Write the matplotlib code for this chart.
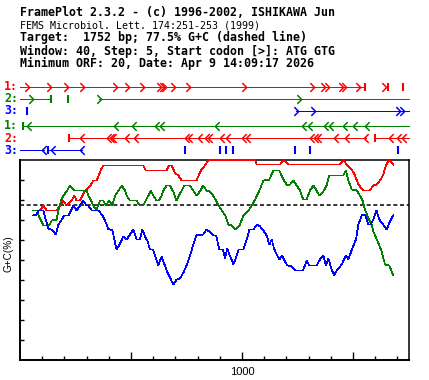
import matplotlib
matplotlib.use('Agg')
import matplotlib.pyplot as plt
from matplotlib.path import Path

plt.rcParams['lines.scale_dashes'] = False

# ---- data ----
seq_len = 1752
gc_total = 77.5

header = ['FramePlot 2.3.2 - (c) 1996-2002, ISHIKAWA Jun',
          'FEMS Microbiol. Lett. 174:251-253 (1999)',
          'Target:  1752 bp; 77.5% G+C (dashed line)',
          'Window: 40, Step: 5, Start codon [>]: ATG GTG',
          'Minimum ORF: 20, Date: Apr 9 14:09:17 2026']

# G+C of each frame (bp, %)
red_pos = [60, 90, 105, 120, 165, 195, 210, 233, 245, 255, 270, 293, 315, 330, 345, 356, 365, 375, 555, 566,
           660, 672, 683, 698, 713, 728, 795, 815, 833, 848, 1059, 1066, 1171, 1186, 1209, 1441, 1456, 1471, 1494, 1509,
           1524, 1546, 1576, 1591, 1606, 1624, 1636, 1648, 1662, 1681]
red_gc = [74.8, 74.8, 77.2, 74.8, 74.8, 79.7, 77.2, 79.7, 82.2, 79.7, 79.7, 84.7, 86.8, 89.7, 89.7, 92.7, 95.2, 97.3, 97.3, 94.8,
          94.8, 97.3, 97.3, 93.5, 92.3, 89.8, 89.8, 94.8, 97.3, 100, 100, 97.7, 97.7, 100, 97.7, 97.7, 100, 97.7, 95.2, 92.3,
          87.7, 84.8, 84.8, 87.3, 87.7, 90.2, 92.7, 97.3, 100, 97.7]

green_pos = [60, 80, 83, 95, 105, 131, 143, 165, 173, 185, 195, 210, 225, 245, 300, 308, 320, 330, 345, 360,
             375, 387, 401, 416, 428, 443, 458, 473, 480, 495, 525, 540, 555, 566, 578, 590, 600, 615, 626, 638,
             645, 660, 675, 690, 705, 716, 728, 740, 765, 780, 795, 810, 825, 840, 855, 870, 883, 894, 909, 924,
             939, 954, 973, 991, 1006, 1029, 1044, 1059, 1078, 1096, 1123, 1141, 1168, 1186, 1204, 1216, 1231, 1246, 1261, 1276,
             1291, 1306, 1321, 1336, 1348, 1366, 1381, 1393, 1456, 1468, 1479, 1494, 1516, 1531, 1543, 1554, 1569, 1584, 1591, 1614,
             1629, 1644, 1663, 1681]
green_gc = [74.8, 74.8, 72.3, 69.7, 67.3, 67.3, 69.7, 70.2, 74.8, 79.7, 82.2, 84.3, 87.2, 84.7, 84.7, 82.2, 79.7, 77.2, 75.2, 79.7,
            79.7, 77.2, 79.7, 77.2, 82.2, 84.7, 87.2, 84.7, 82.2, 79.7, 79.7, 77.2, 77.2, 79.7, 82.2, 84.7, 82.2, 79.7, 79.7, 82.2,
            84.7, 87.2, 87.2, 84.3, 79.7, 82.2, 84.7, 87.2, 87.2, 84.7, 82.2, 84.3, 87.2, 84.7, 84.3, 82.2, 79.7, 77.2, 74.8, 72.3,
            67.7, 67.3, 65.2, 67.7, 72.3, 74.8, 77.2, 80.2, 84.7, 89.7, 90.2, 94.8, 94.8, 90.2, 87.3, 87.7, 89.7, 87.3, 84.7, 80.2,
            80.2, 84.7, 87.3, 84.7, 82.2, 84.3, 87.3, 92.3, 92.3, 94.8, 89.7, 85.2, 84.8, 82.2, 79.7, 75.2, 71.0, 67.7, 64.3, 58.5,
            54.3, 47.7, 47.3, 42.3]

blue_pos = [60, 75, 83, 105, 116, 128, 143, 161, 173, 188, 200, 218, 230, 240, 255, 270, 285, 300, 308, 323,
            353, 371, 383, 398, 416, 425, 435, 450, 465, 480, 495, 510, 525, 540, 551, 563, 575, 585, 600, 611,
            623, 638, 650, 665, 680, 690, 705, 720, 735, 750, 765, 780, 795, 825, 840, 855, 870, 883, 898, 913,
            924, 934, 943, 961, 973, 984, 1006, 1021, 1033, 1051, 1066, 1081, 1096, 1111, 1123, 1134, 1144, 1156, 1168, 1179,
            1189, 1204, 1224, 1243, 1273, 1284, 1291, 1303, 1336, 1351, 1366, 1378, 1389, 1399, 1414, 1429, 1449, 1468, 1479, 1498,
            1513, 1524, 1539, 1554, 1569, 1579, 1591, 1606, 1618, 1636, 1651, 1666, 1681]
blue_gc = [72.3, 72.7, 74.8, 74.8, 70.2, 65.5, 65.2, 62.7, 67.7, 70.2, 72.3, 72.3, 74.8, 77.2, 74.8, 77.2, 79.7, 77.2, 77.2, 74.8,
           74.8, 72.3, 69.7, 65.5, 64.8, 60.2, 55.2, 58.0, 61.8, 60.2, 62.7, 65.2, 60.2, 60.2, 65.2, 61.8, 59.3, 55.2, 55.2, 51.0,
           47.3, 51.8, 48.0, 43.5, 40.2, 37.7, 40.2, 40.7, 43.5, 47.3, 51.8, 57.7, 62.3, 62.7, 65.2, 64.0, 62.3, 62.3, 55.2, 55.2,
           51.0, 55.7, 52.7, 48.0, 51.0, 55.2, 55.2, 60.2, 65.2, 65.2, 67.7, 66.8, 64.7, 62.3, 57.7, 60.2, 55.7, 52.7, 50.2, 52.3,
           50.2, 47.3, 46.8, 44.7, 44.7, 47.3, 49.7, 47.3, 47.3, 50.2, 52.3, 47.3, 50.7, 46.8, 42.3, 45.2, 47.7, 52.3, 50.2, 56.3,
           60.2, 67.7, 72.3, 72.7, 67.7, 67.7, 70.2, 74.8, 70.2, 67.7, 65.2, 69.3, 72.3]

# ORFs: lines (from, to), start codons, stop codons (bp)
f1_orfs = [(0, 1554)]
f1_starts = [31, 129, 206, 279, 429, 483, 550, 625, 638, 650, 691, 755, 1008, 1317, 1364, 1384, 1446, 1460, 1521, 1641]
f1_stops = [1554, 1658, 1727]
f2_orfs = [(0, 138), (354, 1752)]
f2_starts = [49, 354, 1257]
f2_stops = [138, 215]
f3_orfs = [(1242, 1752)]
f3_starts = [1242, 1320, 1701, 1722]
f3_stops = [30]
r1_orfs = [(15, 1752)]
r1_starts = [39, 431, 514, 618, 638, 886, 1281, 1306, 1377, 1401, 1465, 1508, 1562]
r1_stops = [15]
r2_orfs = [(222, 1557), (1599, 1752)]
r2_starts = [279, 402, 413, 423, 482, 521, 750, 766, 811, 842, 856, 911, 936, 1010, 1028,
             1317, 1332, 1347, 1423, 1472, 1557, 1671, 1709, 1731]
r2_stops = [222, 1599]
r3_orfs = [(0, 110), (126, 279)]
r3_starts = [110, 147, 279]
r3_stops = [126, 743, 901, 928, 958, 1239, 1306, 1701]

RED, GREEN, BLUE = '#ff0000', '#008000', '#0000ff'

W, H = 429, 380
fig = plt.figure(figsize=(W / 100, H / 100), dpi=100)


def px_axes(x0, y0, x1, y1):
    return fig.add_axes([x0 / W, 1 - y1 / H, (x1 - x0) / W, (y1 - y0) / H])


# header text
hy = [13, 25, 37, 51, 63]
for i, s in enumerate(header):
    if i == 1:
        fig.text(20 / W, 1 - hy[i] / H, s, family='DejaVu Sans Mono', size=7.2, va='center')
    else:
        fig.text(20 / W, 1 - hy[i] / H, s, family='DejaVu Sans Mono', weight='bold', size=8.4, va='center')

# ORF tracks
tr = px_axes(20, 80, 409, 157)
tr.set_xlim(0, seq_len)
tr.set_ylim(157, 80)
tr.axis('off')

chev_r = Path([(-0.25, 0.5), (0.25, 0), (-0.25, -0.5)], [Path.MOVETO, Path.LINETO, Path.LINETO])
chev_l = Path([(0.25, 0.5), (-0.25, 0), (0.25, -0.5)], [Path.MOVETO, Path.LINETO, Path.LINETO])

tracks = [('1:', RED, 86.5, f1_orfs, f1_starts, f1_stops, chev_r),
          ('2:', GREEN, 98.5, f2_orfs, f2_starts, f2_stops, chev_r),
          ('3:', BLUE, 110.5, f3_orfs, f3_starts, f3_stops, chev_r),
          ('1:', GREEN, 126, r1_orfs, r1_starts, r1_stops, chev_l),
          ('2:', RED, 138, r2_orfs, r2_starts, r2_stops, chev_l),
          ('3:', BLUE, 150, r3_orfs, r3_starts, r3_stops, chev_l)]

for lab, col, y, orfs, starts, stops, chev in tracks:
    fig.text(4 / W, 1 - y / H, lab, color=col, family='DejaVu Sans Mono', weight='bold', size=8.4, va='center')
    for a, b in orfs:
        tr.plot([a, b], [y, y], color=col, lw=0.5, antialiased=False, clip_on=False)
    tr.plot(starts, [y] * len(starts), ls='none', marker=chev, ms=6.3, mfc='none', mec=col,
            mew=1.1, antialiased=False, clip_on=False)
    tr.plot(stops, [y] * len(stops), ls='none', marker='|', ms=6.3, mew=1.5, color=col,
            antialiased=False, clip_on=False)

# G+C plot
ax = px_axes(20, 160, 409, 360)
ax.set_xlim(0, seq_len)
ax.set_ylim(0, 100)
ax.plot([0, seq_len], [gc_total, gc_total], color='black', lw=1.1, dashes=(2.9, 1.9))
ax.plot(red_pos, red_gc, color=RED, lw=0.5, antialiased=False, clip_on=False, zorder=3)
ax.plot(green_pos, green_gc, color=GREEN, lw=0.5, antialiased=False, clip_on=False, zorder=3)
ax.plot(blue_pos, blue_gc, color=BLUE, lw=0.5, antialiased=False, clip_on=False, zorder=3)

for sp in ax.spines.values():
    sp.set_linewidth(1.1)
ax.spines['left'].set_linewidth(1.4)
ax.spines['bottom'].set_linewidth(1.4)

ax.set_yticks(range(10, 100, 10))
ax.set_yticklabels([])
ax.set_xticks([500, 1000, 1500])
ax.set_xticklabels(['', '1000', ''], family='Liberation Sans', fontsize=8)
ax.set_xticks([t for t in range(100, 1800, 100) if t % 500], minor=True)
ax.tick_params(axis='y', direction='in', length=2.9, width=1.0)
ax.tick_params(axis='x', which='major', direction='in', length=5.8, width=1.0, pad=5)
ax.tick_params(axis='x', which='minor', direction='in', length=2.9, width=1.0)

fig.text(9 / W, 1 - 254 / H, 'G+C(%)', rotation=90, ha='center', va='center',
         family='Liberation Sans', fontsize=7.2)

fig.savefig('out.png', dpi=100, facecolor='white')
